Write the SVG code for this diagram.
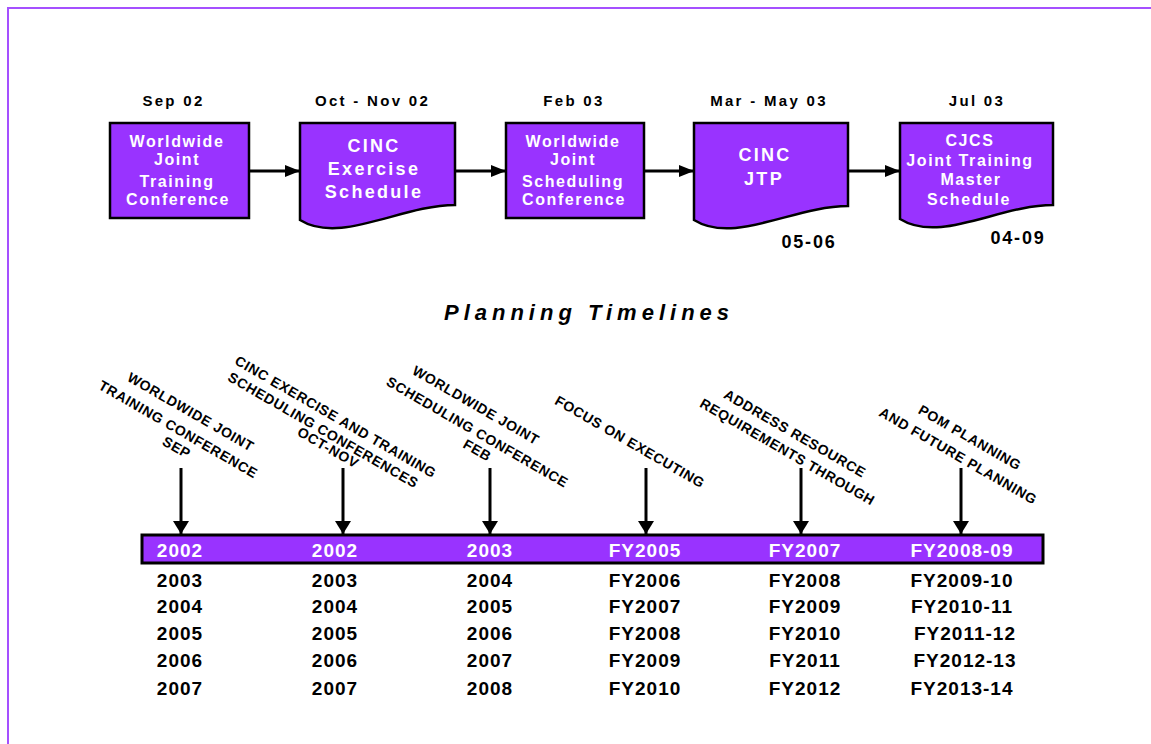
<svg xmlns="http://www.w3.org/2000/svg" width="1151" height="744" viewBox="0 0 1151 744">
  <defs>
    <style>
      .frame { fill: none; stroke: #A550FF; stroke-width: 2; }
      .box { fill: #9933FF; stroke: #000; stroke-width: 2.5; }
      .bar { fill: #9933FF; stroke: #000; stroke-width: 3; }
      .btxt { font-family: "Liberation Sans", Arial, sans-serif; font-weight: bold; font-size: 16px; letter-spacing: 1.6px; fill: #fff; text-anchor: middle; }
      .btxt-lg { font-size: 18px; letter-spacing: 2.3px; }
      .date { font-family: "Liberation Sans", Arial, sans-serif; font-weight: bold; font-size: 15px; letter-spacing: 2.3px; fill: #000; text-anchor: middle; }
      .span { font-family: "Liberation Sans", Arial, sans-serif; font-weight: bold; font-size: 18px; letter-spacing: 1.8px; fill: #000; text-anchor: middle; }
      .title { font-family: "Liberation Sans", Arial, sans-serif; font-weight: bold; font-style: italic; font-size: 22px; letter-spacing: 5px; fill: #000; text-anchor: middle; }
      .note { font-family: "Liberation Sans", Arial, sans-serif; font-weight: bold; font-size: 14px; letter-spacing: 0.6px; fill: #000; text-anchor: middle; }
      .yr { font-family: "Liberation Sans", Arial, sans-serif; font-weight: bold; font-size: 19px; letter-spacing: 1px; fill: #000; text-anchor: middle; }
      .yr-w { fill: #fff; }
      .link { stroke: #000; stroke-width: 3; fill: none; }
    </style>
    <marker id="arrowH" markerUnits="userSpaceOnUse" markerWidth="15" markerHeight="12" refX="15" refY="6" orient="auto">
      <path d="M0,0 L15,6 L0,12 Z" fill="#000"/>
    </marker>
    <marker id="arrowV" markerUnits="userSpaceOnUse" markerWidth="13" markerHeight="16" refX="13" refY="8" orient="auto">
      <path d="M0,0 L13,8 L0,16 Z" fill="#000"/>
    </marker>
  </defs>

  <rect width="1151" height="744" fill="#fff"/>
  <rect class="frame" x="8" y="8" width="1200" height="800"/>

  <!-- schedule milestones -->
  <g id="node-wjtc">
    <text class="date" x="173.5" y="105.7">Sep 02</text>
    <rect class="box" x="110" y="123" width="139" height="95"/>
    <text class="btxt" x="177" y="146.5">Worldwide</text>
    <text class="btxt" x="177" y="165">Joint</text>
    <text class="btxt" x="177" y="186.5">Training</text>
    <text class="btxt" x="178" y="205">Conference</text>
  </g>

  <g id="node-cinc-exercise">
    <text class="date" x="372.5" y="105.7">Oct - Nov 02</text>
    <path class="box" d="M300,123 H455 V205 C401,205 340,245 300,220 Z"/>
    <text class="btxt btxt-lg" x="374" y="151.7">CINC</text>
    <text class="btxt btxt-lg" x="374" y="175">Exercise</text>
    <text class="btxt btxt-lg" x="374" y="198.3">Schedule</text>
  </g>

  <g id="node-wjsc">
    <text class="date" x="574" y="105.7">Feb 03</text>
    <rect class="box" x="506" y="123" width="138" height="95"/>
    <text class="btxt" x="573" y="146.5">Worldwide</text>
    <text class="btxt" x="573" y="165">Joint</text>
    <text class="btxt" x="573" y="186.5">Scheduling</text>
    <text class="btxt" x="574" y="205">Conference</text>
  </g>

  <g id="node-cinc-jtp">
    <text class="date" x="769" y="105.7">Mar - May 03</text>
    <path class="box" d="M694,123 H848 V206 C794,206 734,245 694,220 Z"/>
    <text class="btxt btxt-lg" x="765" y="161">CINC</text>
    <text class="btxt btxt-lg" x="764" y="185">JTP</text>
    <text class="span" x="809" y="247.7">05-06</text>
  </g>

  <g id="node-cjcs-jtms">
    <text class="date" x="977" y="105.7">Jul 03</text>
    <path class="box" d="M900,123 H1053 V205 C999,205 940,244 900,219 Z"/>
    <text class="btxt" x="970" y="146">CJCS</text>
    <text class="btxt" x="970" y="166">Joint Training</text>
    <text class="btxt" x="971" y="185">Master</text>
    <text class="btxt" x="969" y="205">Schedule</text>
    <text class="span" x="1018" y="244.3">04-09</text>
  </g>

  <g id="connectors">
    <line class="link" x1="249" y1="171" x2="300" y2="171" marker-end="url(#arrowH)"/>
    <line class="link" x1="455" y1="171" x2="506" y2="171" marker-end="url(#arrowH)"/>
    <line class="link" x1="644" y1="171" x2="694" y2="171" marker-end="url(#arrowH)"/>
    <line class="link" x1="848" y1="171" x2="900" y2="171" marker-end="url(#arrowH)"/>
    <line class="link" x1="181" y1="468" x2="181" y2="534" marker-end="url(#arrowV)"/>
    <line class="link" x1="343" y1="468" x2="343" y2="534" marker-end="url(#arrowV)"/>
    <line class="link" x1="490" y1="468" x2="490" y2="534" marker-end="url(#arrowV)"/>
    <line class="link" x1="646" y1="468" x2="646" y2="534" marker-end="url(#arrowV)"/>
    <line class="link" x1="801" y1="468" x2="801" y2="534" marker-end="url(#arrowV)"/>
    <line class="link" x1="961" y1="468" x2="961" y2="534" marker-end="url(#arrowV)"/>
  </g>

  <text class="title" x="589" y="320">Planning Timelines</text>

  <!-- slanted notes above the timeline -->
  <g id="note-1">
    <text class="note" transform="translate(190.8,411.7) rotate(30)" y="5">WORLDWIDE JOINT</text>
    <text class="note" transform="translate(178.3,429.2) rotate(30)" y="5">TRAINING CONFERENCE</text>
    <text class="note" transform="translate(176.7,447.3) rotate(30)" y="5">SEP</text>
  </g>
  <g id="note-2">
    <text class="note" transform="translate(335.7,416.7) rotate(30)" y="5">CINC EXERCISE AND TRAINING</text>
    <text class="note" transform="translate(323.3,430) rotate(30)" y="5">SCHEDULING CONFERENCES</text>
    <text class="note" transform="translate(328.3,447.5) rotate(30)" y="5">OCT-NOV</text>
  </g>
  <g id="note-3">
    <text class="note" transform="translate(476,405) rotate(30)" y="5">WORLDWIDE JOINT</text>
    <text class="note" transform="translate(477.5,432) rotate(30)" y="5">SCHEDULING CONFERENCE</text>
    <text class="note" transform="translate(477.5,450) rotate(30)" y="5">FEB</text>
  </g>
  <g id="note-4">
    <text class="note" transform="translate(630,441.7) rotate(30)" y="5">FOCUS ON EXECUTING</text>
  </g>
  <g id="note-5">
    <text class="note" transform="translate(795,433.3) rotate(30)" y="5">ADDRESS RESOURCE</text>
    <text class="note" transform="translate(787.5,451.7) rotate(30)" y="5">REQUIREMENTS THROUGH</text>
  </g>
  <g id="note-6">
    <text class="note" transform="translate(970,437.5) rotate(30)" y="5">POM  PLANNING</text>
    <text class="note" transform="translate(958.3,455.7) rotate(30)" y="5">AND FUTURE PLANNING</text>
  </g>

  <!-- timeline bar and year columns -->
  <g id="timeline-bar">
    <rect class="bar" x="142" y="535" width="901" height="28"/>
    <text class="yr yr-w" x="180" y="557">2002</text>
    <text class="yr yr-w" x="335" y="557">2002</text>
    <text class="yr yr-w" x="490" y="557">2003</text>
    <text class="yr yr-w" x="645" y="557">FY2005</text>
    <text class="yr yr-w" x="805" y="557">FY2007</text>
    <text class="yr yr-w" x="962" y="557">FY2008-09</text>
  </g>

  <g id="col-1">
    <text class="yr" x="180" y="587">2003</text>
    <text class="yr" x="180" y="613">2004</text>
    <text class="yr" x="180" y="640">2005</text>
    <text class="yr" x="180" y="667">2006</text>
    <text class="yr" x="180" y="695">2007</text>
  </g>
  <g id="col-2">
    <text class="yr" x="335" y="587">2003</text>
    <text class="yr" x="335" y="613">2004</text>
    <text class="yr" x="335" y="640">2005</text>
    <text class="yr" x="335" y="667">2006</text>
    <text class="yr" x="335" y="695">2007</text>
  </g>
  <g id="col-3">
    <text class="yr" x="490" y="587">2004</text>
    <text class="yr" x="490" y="613">2005</text>
    <text class="yr" x="490" y="640">2006</text>
    <text class="yr" x="490" y="667">2007</text>
    <text class="yr" x="490" y="695">2008</text>
  </g>
  <g id="col-4">
    <text class="yr" x="645" y="587">FY2006</text>
    <text class="yr" x="645" y="613">FY2007</text>
    <text class="yr" x="645" y="640">FY2008</text>
    <text class="yr" x="645" y="667">FY2009</text>
    <text class="yr" x="645" y="695">FY2010</text>
  </g>
  <g id="col-5">
    <text class="yr" x="805" y="587">FY2008</text>
    <text class="yr" x="805" y="613">FY2009</text>
    <text class="yr" x="805" y="640">FY2010</text>
    <text class="yr" x="805" y="667">FY2011</text>
    <text class="yr" x="805" y="695">FY2012</text>
  </g>
  <g id="col-6">
    <text class="yr" x="962" y="587">FY2009-10</text>
    <text class="yr" x="962" y="613">FY2010-11</text>
    <text class="yr" x="965" y="640">FY2011-12</text>
    <text class="yr" x="965" y="667">FY2012-13</text>
    <text class="yr" x="962" y="695">FY2013-14</text>
  </g>
</svg>
